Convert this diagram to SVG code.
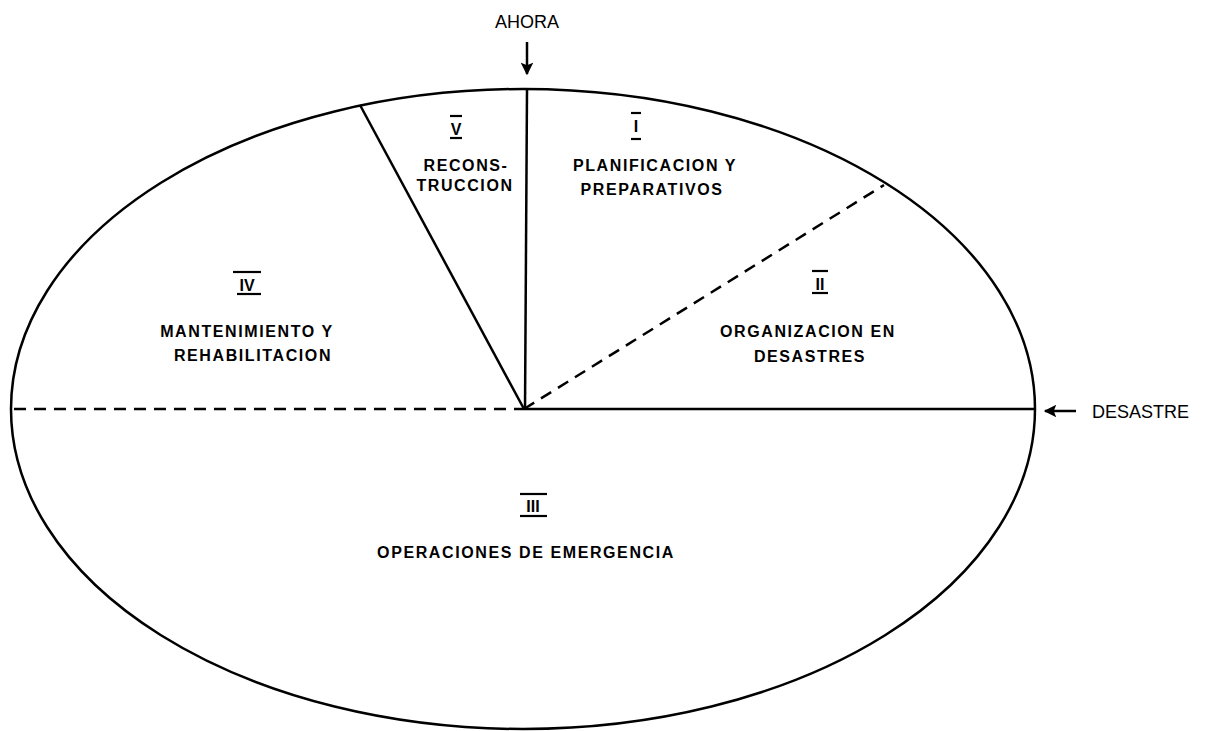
<svg xmlns="http://www.w3.org/2000/svg" width="1222" height="731" viewBox="0 0 1222 731">
<style>
.ln{stroke:#000;stroke-width:2.5;fill:none}
.dash{stroke:#000;stroke-width:2.5;fill:none;stroke-dasharray:12 8}
.t{font-family:"Liberation Sans",Arial,sans-serif;font-weight:bold;font-size:16px;fill:#000;text-anchor:middle;letter-spacing:1.6px}
.n{font-family:"Liberation Sans",Arial,sans-serif;font-weight:bold;font-size:16px;fill:#000;text-anchor:middle}
.lab{font-family:"Liberation Sans",Arial,sans-serif;font-size:18px;fill:#000}
.bar{stroke:#000;stroke-width:2.2}
</style>
<defs>
<marker id="ah" viewBox="0 0 10 10" refX="9" refY="5" markerWidth="6" markerHeight="5" orient="auto">
<path d="M0,0 L10,5 L0,10 L2,5 z" fill="#000"/>
</marker>
</defs>
<rect width="1222" height="731" fill="#fff"/>
<g id="ellipse">
<ellipse cx="523" cy="409" rx="512" ry="320" class="ln" stroke-width="3.5"/>
</g>
<g id="connectors">
<line x1="527" y1="90" x2="525" y2="409" class="ln"/>
<line x1="360" y1="105" x2="524" y2="409" class="ln"/>
<line x1="524" y1="409" x2="1035" y2="409" class="ln"/>
<line x1="524" y1="409" x2="884" y2="185" class="dash"/>
<line x1="14" y1="409" x2="524" y2="409" class="dash"/>
<line x1="527" y1="42" x2="527" y2="74" class="ln" stroke-width="3" marker-end="url(#ah)"/>
<line x1="1076" y1="411" x2="1045" y2="411" class="ln" stroke-width="3" marker-end="url(#ah)"/>
</g>
<g id="ahora"><text x="527" y="28" class="lab" text-anchor="middle">AHORA</text></g>
<g id="desastre"><text x="1092" y="418" class="lab">DESASTRE</text></g>
<g id="sector-V">
<line x1="450" y1="116" x2="462" y2="116" class="bar"/>
<text x="456" y="135" class="n">V</text>
<line x1="450" y1="138" x2="462" y2="138" class="bar"/>
<text x="466" y="171" class="t">RECONS-</text>
<text x="465" y="191" class="t">TRUCCION</text>
</g>
<g id="sector-I">
<line x1="631" y1="113" x2="641" y2="113" class="bar"/>
<text x="636" y="132" class="n">I</text>
<line x1="631" y1="139" x2="641" y2="139" class="bar"/>
<text x="655" y="171" class="t">PLANIFICACION  Y</text>
<text x="652" y="195" class="t">PREPARATIVOS</text>
</g>
<g id="sector-II">
<line x1="812" y1="271" x2="828" y2="271" class="bar"/>
<text x="820" y="290" class="n">II</text>
<line x1="812" y1="293" x2="828" y2="293" class="bar"/>
<text x="808" y="337" class="t">ORGANIZACION  EN</text>
<text x="810" y="362" class="t">DESASTRES</text>
</g>
<g id="sector-IV">
<line x1="233" y1="272" x2="261" y2="272" class="bar"/>
<text x="247" y="291" class="n">IV</text>
<line x1="237" y1="294" x2="261" y2="294" class="bar"/>
<text x="247" y="337" class="t">MANTENIMIENTO  Y</text>
<text x="253" y="361" class="t">REHABILITACION</text>
</g>
<g id="sector-III">
<line x1="520" y1="494" x2="547" y2="494" class="bar"/>
<text x="533" y="512" class="n">III</text>
<line x1="520" y1="516" x2="547" y2="516" class="bar"/>
<text x="526" y="558" class="t">OPERACIONES  DE  EMERGENCIA</text>
</g>
</svg>
